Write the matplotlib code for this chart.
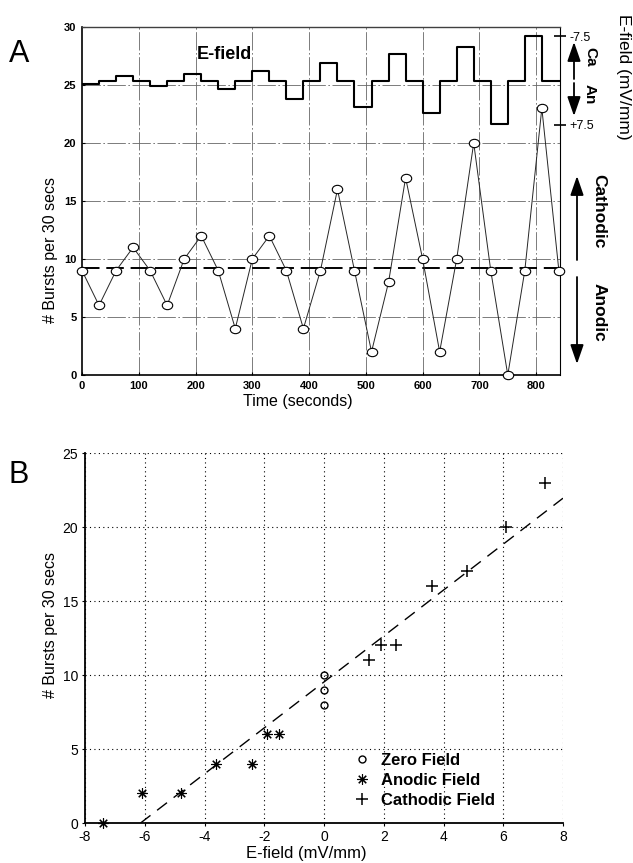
import numpy as np
import matplotlib
matplotlib.use("Agg")
import matplotlib.pyplot as plt
from matplotlib.path import Path
from matplotlib.patches import FancyArrowPatch

plt.rcParams['font.family'] = ['Liberation Sans', 'DejaVu Sans']
plt.rcParams['axes.unicode_minus'] = False

# ---------------- data ----------------
time_s = [0, 30, 60, 90, 120, 150, 180, 210, 240, 270, 300, 330, 360, 390, 420,
          450, 480, 510, 540, 570, 600, 630, 660, 690, 720, 750, 780, 810, 840]
bursts = [9, 6, 9, 11, 9, 6, 10, 12, 9, 4, 10, 12, 9, 4, 9,
          16, 9, 2, 8, 17, 10, 2, 10, 20, 9, 0, 9, 23, 9]
# E-field applied during each 30 s interval (mV/mm), as drawn in panel A
efield_steps = [0.6, 0, -0.7, 0, 1.0, 0, -1.1, 0, 1.5, 0, -1.6, 0, 3.2, 0,
                -2.9, 0, 4.5, 0, -4.5, 0, 5.5, 0, -5.6, 0, 7.4, 0, -7.6, 0]
a_yticks = [0, 5, 10, 15, 20, 25, 30]
a_xticks = [0, 100, 200, 300, 400, 500, 600, 700, 800]

zero_x = [0, 0, 0]
zero_y = [8, 9, 10]
anodic_x = [-7.4, -6.1, -4.8, -3.6, -2.4, -1.9, -1.5]
anodic_y = [0, 2, 2, 4, 4, 6, 6]
cathodic_x = [1.5, 1.9, 2.4, 3.6, 4.8, 6.1, 7.4]
cathodic_y = [11, 12, 12, 16, 17, 20, 23]
b_xticks = [-8, -6, -4, -2, 0, 2, 4, 6, 8]
b_yticks = [0, 5, 10, 15, 20, 25]

W, H = 633, 863
fig = plt.figure(figsize=(W / 100, H / 100), dpi=100)


def fpix(x, y):
    return (x, H - y)


# ---------------- panel A ----------------
axA = fig.add_axes([82 / W, 1 - 375 / H, 478 / W, 348 / H])
axA.set_xlim(0, 842)
axA.set_ylim(0, 30)

for yv in a_yticks[1:-1]:
    axA.axhline(yv, color='0.4', lw=0.6, ls=(0, (22, 3, 2, 3)), zorder=1)
for xv in a_xticks[1:]:
    axA.axvline(xv, color='0.4', lw=0.6, ls=(0, (22, 3, 2, 3)), zorder=1)

circ = Path.unit_circle()
ell = Path(circ.vertices * np.array([1.25, 1.0]), circ.codes)

axA.plot(time_s, bursts, color='0.15', lw=0.7, zorder=3)
axA.plot(time_s, bursts, ls='none', marker=ell, ms=7.5, mfc='white',
         mec='black', mew=0.8, zorder=4, clip_on=False)
zero_mean = np.mean(bursts[::2])
axA.plot([time_s[0], time_s[-1]], [zero_mean, zero_mean], color='black',
         lw=1.4, dashes=(9, 3.5), zorder=2)

axA.set_xticks(a_xticks)
axA.set_yticks(a_yticks)
axA.set_xticklabels([str(v) for v in a_xticks], fontweight='bold', fontsize=8)
axA.set_yticklabels([str(v) for v in a_yticks], fontweight='bold', fontsize=8)
axA.tick_params(direction='in', length=2, pad=4)
for s in ['left', 'bottom']:
    axA.spines[s].set_linewidth(1.2)
axA.spines['top'].set_linewidth(1.0)
axA.spines['top'].set_color('0.25')
axA.spines['right'].set_linewidth(0.8)

axA.set_xlabel('Time (seconds)', fontsize=11.5)
axA.xaxis.set_label_coords(0.452, -0.055)
axA.set_ylabel('# Bursts per 30 secs', fontsize=11.5)
axA.yaxis.set_label_coords(-0.050, 0.36)
axA.text(0.297, 0.92, 'E-field', transform=axA.transAxes, fontsize=13,
         fontweight='bold', ha='center', va='center')

# E-field on a twin axis (inverted: -7.5 at top)
ax2 = axA.twinx()
ax2.set_ylim(49.9, -9.07)
step_vals = efield_steps + [efield_steps[-1]]
ax2.step(time_s, step_vals, where='post', color='black', lw=1.5, zorder=5)
ax2.set_yticks([-7.5, 7.5])
ax2.set_yticklabels(['-7.5', '+7.5'], fontsize=9)
ax2.tick_params(axis='y', direction='inout', length=9, width=1.2, pad=2)
for s in ax2.spines.values():
    s.set_visible(False)

# right-hand annotations
fig.text(623 / W, 1 - 77 / H, 'E-field (mV/mm)', rotation=-90, fontsize=12.5,
         ha='center', va='center')
fig.text(590 / W, 1 - 57 / H, 'Ca', rotation=-90, fontsize=11,
         fontweight='bold', ha='center', va='center')
fig.text(590 / W, 1 - 94 / H, 'An', rotation=-90, fontsize=11,
         fontweight='bold', ha='center', va='center')
fig.text(599 / W, 1 - 211 / H, 'Cathodic', rotation=-90, fontsize=12.5,
         fontweight='bold', ha='center', va='center')
fig.text(599 / W, 1 - 312 / H, 'Anodic', rotation=-90, fontsize=12.5,
         fontweight='bold', ha='center', va='center')

for (x0, y0, x1, y1) in [(574, 79, 574, 42), (574, 83, 574, 116),
                         (577, 260, 577, 176), (577, 277, 577, 364)]:
    fig.add_artist(FancyArrowPatch(
        fpix(x0, y0), fpix(x1, y1), transform=None,
        arrowstyle='-|>,head_length=1.3,head_width=0.45', mutation_scale=9,
        color='black', lw=1.3, shrinkA=0, shrinkB=0))

fig.text(19 / W, 1 - 54 / H, 'A', fontsize=22, ha='center', va='center')
fig.text(19 / W, 1 - 475 / H, 'B', fontsize=22, ha='center', va='center')

# ---------------- panel B ----------------
axB = fig.add_axes([85 / W, 1 - 823 / H, 478 / W, 370 / H])
axB.set_xlim(-8, 8)
axB.set_ylim(0, 25)
axB.set_xticks(b_xticks)
axB.set_yticks(b_yticks)
axB.grid(True, color='black', lw=0.8, ls=(0, (1, 3)))
axB.set_axisbelow(True)
axB.spines['top'].set_visible(False)
axB.spines['right'].set_visible(False)
axB.spines['left'].set_linewidth(1.3)
axB.spines['bottom'].set_linewidth(1.3)
axB.tick_params(labelsize=10, direction='out', length=2, pad=3)

all_x = np.array(zero_x + anodic_x + cathodic_x, dtype=float)
all_y = np.array(zero_y + anodic_y + cathodic_y, dtype=float)
slope, icpt = np.polyfit(all_x, all_y, 1)
fx = np.array([-icpt / slope, 8.0])
axB.plot(fx, slope * fx + icpt, color='black', lw=1.0, dashes=(9, 6),
         zorder=2)

h0, = axB.plot(zero_x, zero_y, ls='none', marker='o', ms=5, mfc='none',
               mec='black', mew=1.0, zorder=3)
h1, = axB.plot(anodic_x, anodic_y, ls='none', marker=(8, 2, 0), ms=7.5,
               mec='black', mew=0.8, zorder=3, clip_on=False)
h2, = axB.plot(cathodic_x, cathodic_y, ls='none', marker='+', ms=8,
               mec='black', mew=1.1, zorder=3)

axB.legend([h0, h1, h2], ['Zero Field', 'Anodic Field', 'Cathodic Field'],
           loc='upper left', bbox_to_anchor=(0.562, 0.19), frameon=False,
           prop={'weight': 'bold', 'size': 12}, handlelength=1.0,
           handletextpad=0.65, labelspacing=0.3, borderpad=0,
           borderaxespad=0)

axB.set_xlabel('E-field (mV/mm)', fontsize=12)
axB.xaxis.set_label_coords(0.462, -0.062)
axB.set_ylabel('# Bursts per 30 secs', fontsize=11.5)
axB.yaxis.set_label_coords(-0.056, 0.535)

fig.savefig('out.png', dpi=100)
